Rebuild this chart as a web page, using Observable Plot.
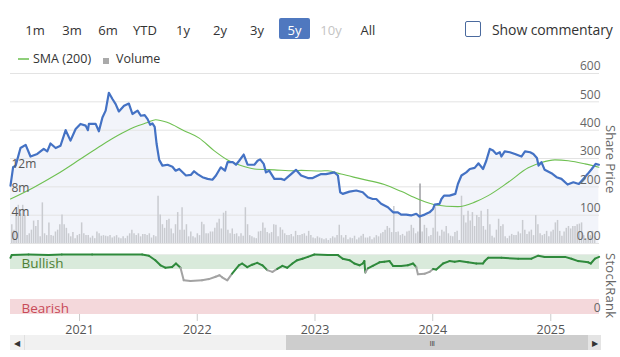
<!DOCTYPE html>
<html><head><meta charset="utf-8">
<script src="https://cdn.jsdelivr.net/npm/d3@7"></script>
<script src="https://cdn.jsdelivr.net/npm/@observablehq/plot@0.6"></script>
<style>
body{margin:0;background:#fff;font-family:"Open Sans",sans-serif;}
#wrap{position:relative;width:620px;height:357px;overflow:hidden;}
.btn{position:absolute;top:21px;font-size:13px;color:#333;transform:translateX(-50%);line-height:18px;white-space:nowrap;}
.abs{position:absolute;white-space:nowrap;}
.vert{position:absolute;writing-mode:vertical-rl;font-size:13px;color:#666;line-height:14px;}
#main,#rank{position:absolute;left:0;}
#main{top:60px;} #rank{top:246px;}
</style></head><body><div id="wrap">
<div class="btn" style="left:35px">1m</div>
<div class="btn" style="left:72px">3m</div>
<div class="btn" style="left:108px">6m</div>
<div class="btn" style="left:145px">YTD</div>
<div class="btn" style="left:183px">1y</div>
<div class="btn" style="left:220px">2y</div>
<div class="btn" style="left:257px">3y</div>
<div class="abs" style="left:279px;top:18px;width:31px;height:21px;background:#4f78bf;border-radius:2px;"></div>
<div class="btn" style="left:294.5px;color:#fff">5y</div>
<div class="btn" style="left:331px;color:#c4c4c4">10y</div>
<div class="btn" style="left:368px">All</div>
<div class="abs" style="left:465px;top:21px;width:14px;height:14px;border:1.5px solid #4a6a9e;border-radius:2px;"></div>
<div class="abs" style="left:492px;top:20px;font-size:14px;color:#333;line-height:19px;letter-spacing:-0.1px;">Show commentary</div>
<div class="abs" style="left:18px;top:58px;width:11px;height:2px;background:#8fcf7a;"></div>
<div class="abs" style="left:33px;top:50px;font-size:12.5px;color:#333;line-height:17px;">SMA (200)</div>
<div class="abs" style="left:103px;top:58px;width:6px;height:6px;background:#aaa;"></div>
<div class="abs" style="left:116px;top:50px;font-size:12.5px;color:#333;line-height:17px;">Volume</div>
<div id="main"></div>
<div id="rank"></div>
<div class="vert" style="left:604px;top:125px;">Share Price</div>
<div class="vert" style="left:604px;top:253px;letter-spacing:0.3px;">StockRank</div>
<div class="abs" style="left:10px;top:335px;width:591px;height:15px;background:#f1f1f1;"></div>
<div class="abs" style="left:10px;top:335px;width:14px;height:15px;background:#f1f1f1;border-right:1px solid #e0e0e0;font-size:8px;color:#333;line-height:15px;text-align:center;">&#9664;</div>
<div class="abs" style="left:286px;top:335px;width:302px;height:15px;background:#cdcdcd;"></div>
<div class="abs" style="left:427px;top:338px;width:10px;height:10px;font-size:8px;color:#444;line-height:10px;text-align:center;letter-spacing:-0.5px;">III</div>
<div class="abs" style="left:588px;top:335px;width:13px;height:15px;background:#e4e4e4;font-size:8px;color:#333;line-height:15px;text-align:center;">&#9654;</div>
</div>
<script>
// ---- data ----
const priceDates = ["2020-06-01","2020-06-09","2020-06-17","2020-07-02","2020-07-18","2020-08-02","2020-08-23","2020-09-12","2020-09-23","2020-10-03","2020-10-19","2020-11-03","2020-11-19","2020-12-04","2020-12-20","2021-01-04","2021-01-20","2021-01-27","2021-01-30","2021-02-20","2021-03-02","2021-03-13","2021-03-23","2021-04-02","2021-04-13","2021-04-23","2021-05-03","2021-05-19","2021-06-03","2021-06-14","2021-06-30","2021-07-10","2021-07-22","2021-07-31","2021-08-08","2021-08-15","2021-08-22","2021-08-28","2021-09-05","2021-09-15","2021-10-01","2021-10-16","2021-10-26","2021-11-06","2021-11-27","2021-12-12","2021-12-22","2022-01-02","2022-01-17","2022-02-02","2022-02-17","2022-02-28","2022-03-15","2022-03-28","2022-04-05","2022-04-21","2022-05-01","2022-05-11","2022-05-25","2022-06-06","2022-06-27","2022-07-07","2022-07-15","2022-07-26","2022-08-02","2022-08-12","2022-08-28","2022-09-18","2022-09-28","2022-10-08","2022-10-19","2022-11-03","2022-11-19","2022-12-10","2022-12-25","2023-01-10","2023-01-20","2023-02-04","2023-03-02","2023-03-13","2023-03-20","2023-03-28","2023-04-18","2023-05-09","2023-05-29","2023-06-14","2023-06-29","2023-07-10","2023-07-25","2023-08-15","2023-08-31","2023-09-15","2023-09-25","2023-10-11","2023-10-26","2023-11-11","2023-11-21","2023-12-07","2023-12-22","2024-01-02","2024-01-07","2024-01-22","2024-01-28","2024-02-05","2024-02-22","2024-03-11","2024-03-19","2024-03-30","2024-04-14","2024-04-25","2024-05-10","2024-05-22","2024-06-05","2024-06-15","2024-06-26","2024-07-06","2024-07-16","2024-07-27","2024-08-01","2024-08-11","2024-08-27","2024-09-12","2024-10-02","2024-10-13","2024-10-29","2024-11-08","2024-11-19","2024-11-24","2024-12-03","2024-12-13","2025-01-03","2025-01-19","2025-02-03","2025-02-22","2025-03-12","2025-03-29","2025-04-12","2025-04-25","2025-05-08","2025-05-20","2025-05-30"];
const priceValues = [204,269,275,337,348,307,316,334,325,353,337,345,400,363,404,422,416,400,422,422,396,445,469,532,510,492,466,486,494,457,469,451,453,439,419,424,412,351,295,275,278,271,257,263,240,242,255,245,234,228,225,240,269,257,287,287,278,292,314,278,278,292,297,281,251,257,228,228,224,234,245,260,240,231,231,240,245,245,251,240,181,175,183,187,181,163,157,157,140,128,110,110,102,102,99,105,95,102,110,122,137,140,157,169,169,175,210,240,251,263,267,283,263,292,334,328,316,322,307,325,322,316,307,325,322,316,302,275,287,260,248,234,228,208,216,210,228,245,263,281,278];

const smaDates = ["2020-06-01","2020-08-12","2020-10-24","2021-01-04","2021-03-08","2021-04-28","2021-06-19","2021-07-31","2021-08-25","2021-10-01","2021-11-21","2022-01-07","2022-02-22","2022-04-05","2022-05-16","2022-06-27","2022-08-28","2022-10-29","2022-11-19","2023-01-20","2023-02-10","2023-03-23","2023-05-24","2023-08-04","2023-09-25","2023-11-16","2024-01-07","2024-03-19","2024-05-10","2024-06-21","2024-08-22","2024-10-23","2024-12-03","2025-01-14","2025-02-24","2025-04-17","2025-05-30"];
const smaValues = [157,198,245,298,345,380,410,427,437,427,398,372,328,295,275,263,260,257,258,256,257,245,228,208,184,157,137,130,146,169,216,267,286,295,292,281,269];

// weekly volume, millions (first bar ~2020-06-05, last ~2025-05-17)
const volumeStart = "2020-06-05", volumeEnd = "2025-05-17";
const volumeValues = [3.1,2.2,4.6,6.3,4.9,6.3,4.6,1.3,1.6,2.2,3.7,2.8,3.8,1.1,6.7,1.6,1.3,3.4,1.3,1.2,1.9,2.2,3.1,4.7,3.1,2.5,1.6,1.1,1.8,0.8,1.3,1.5,3.4,1.6,1.3,1.3,0.9,1.2,0.8,1.9,1.6,1.2,1.3,1.2,1.1,1.3,0.9,1.1,1.3,0.9,0.8,1.1,0.8,1.2,1.6,2.2,1.6,1.3,1.6,1.1,1.5,1.5,1.3,1.6,0.9,1.3,1.1,7.8,
4.7,3.1,2.5,3.8,4.0,2.4,1.6,3.1,5.1,2.2,5.9,2.2,3.1,1.1,1.9,1.1,0.9,1.6,1.3,3.5,3.1,1.6,1.6,1.9,1.9,2.5,3.4,4.0,2.4,5.0,5.3,2.2,1.6,2.4,1.5,1.6,1.1,1.6,1.2,5.9,3.1,1.3,1.1,0.9,0.8,1.9,2.0,3.4,2.5,1.8,1.6,1.8,3.1,3.0,1.1,2.6,2.2,1.6,1.3,1.3,1.5,1.1,2.0,1.3,1.3,1.5,
1.6,1.2,2.0,1.3,0.9,0.8,1.1,0.9,0.8,0.6,0.8,0.5,0.8,1.1,0.9,1.3,3.0,1.3,0.9,1.3,0.6,0.9,0.8,1.2,0.6,0.9,1.2,1.5,0.9,0.9,1.1,0.6,0.9,1.3,1.1,1.6,1.8,2.2,2.8,2.5,1.8,6.1,1.8,1.9,1.3,1.5,1.2,1.9,2.0,3.0,2.5,1.6,1.9,9.8,1.9,3.0,2.5,1.1,1.3,2.5,6.0,1.9,1.2,2.2,1.9,2.8,1.6,1.2,1.1,
1.8,2.0,0.5,7.8,4.6,3.4,5.3,3.7,5.1,2.8,4.6,4.3,5.3,2.8,2.2,5.6,3.1,1.2,0.9,2.2,4.0,2.8,3.1,1.1,0.8,1.2,1.5,1.3,1.3,1.9,1.6,3.8,2.2,1.5,1.9,2.2,1.3,4.6,3.1,1.6,1.3,1.5,2.0,1.1,1.9,2.2,3.4,3.8,2.0,1.2,1.9,2.5,2.8,2.4,2.8,2.8,3.1,3.2,3.4,1.3,0.8,1.9,1.3,2.0,1.1];

const rankDates = ["2020-06-01","2020-06-05","2020-07-27","2020-09-27","2020-11-07","2021-02-09","2021-07-14","2021-08-04","2021-08-24","2021-09-09","2021-09-24","2021-10-15","2021-10-27","2021-11-10","2021-11-20","2021-12-11","2022-01-16","2022-02-06","2022-02-27","2022-03-11","2022-03-19","2022-04-04","2022-04-19","2022-05-10","2022-05-20","2022-06-05","2022-06-20","2022-07-06","2022-07-22","2022-08-06","2022-08-22","2022-09-06","2022-09-22","2022-10-07","2022-10-23","2022-11-07","2022-11-23","2022-12-10","2022-12-30","2023-02-10","2023-03-13","2023-03-28","2023-04-18","2023-05-03","2023-05-19","2023-05-29","2023-06-03","2023-06-06","2023-06-14","2023-06-29","2023-07-20","2023-08-04","2023-08-20","2023-08-31","2023-09-25","2023-10-16","2023-11-01","2023-11-11","2023-11-16","2023-12-07","2023-12-22","2024-01-02","2024-01-12","2024-02-02","2024-02-22","2024-03-09","2024-03-24","2024-04-19","2024-05-15","2024-06-05","2024-06-10","2024-06-21","2024-08-01","2024-09-22","2024-11-02","2024-11-23","2024-12-13","2025-02-14","2025-03-06","2025-03-27","2025-04-27","2025-05-05","2025-05-18","2025-05-31"];
const rankValues = [94.5,99,100,99,100,100,100,98,90.5,82,78,79,85,78,57,56,57,59,63,65.5,62,57,68,82,85,79,83,86,82,74,71,76,81,78,85,90.5,93,96,100,99,99,93,90.5,85,82,85,89,70,77,81,87,88,89,81,81,82,85,79,67,68,71,76,75,85,89,88,89,87,85,85,89,94.5,94.5,93,93,98,96,96,93,89,87,85,93,96];

const priceTicks = [0,100,200,300,400,500,600];
const priceTickLabels = ["0.00","100","200","300","400","500","600"];
const volumeTicks = [0,4,8,12];
const volumeTickLabels = ["0","4m","8m","12m"];
const yearLabels = ["2021","2022","2023","2024","2025"];
const bandNames = ["Bullish","Bearish"];
const bandLow = [75,0];
const bandHigh = [100,25];
const domainStart = "2020-06-01", domainEnd = "2025-06-01";

// ---- build ----
const parse = d3.utcParse("%Y-%m-%d");
const X0 = parse(domainStart), X1 = parse(domainEnd);
const priceData = priceDates.map((d,i)=>({date:parse(d), v:priceValues[i]}));
const smaData = smaDates.map((d,i)=>({date:parse(d), v:smaValues[i]}));
const vs = parse(volumeStart), ve = parse(volumeEnd), n = volumeValues.length;
const vmax = d3.max(volumeValues);
const volData = volumeValues.map((v,i)=>({date:new Date(+vs + (ve-vs)*i/(n-1)), v}));
const VSCALE = 21.4; // volume (m) -> price-axis units: volume axis shares the panel
const FONT = "Open Sans";

const main = Plot.plot({
  width:620, height:190, marginLeft:10, marginRight:21, marginTop:13, marginBottom:7,
  x:{type:"utc", domain:[X0,X1], axis:null},
  y:{domain:[0,600], axis:null},
  style:{fontFamily:FONT, fontSize:"12px", background:"transparent", overflow:"visible"},
  marks:[
    Plot.areaY(priceData,{x:"date", y:"v", fill:"#f2f4fa"}),
    Plot.ruleY(priceTicks,{stroke:"#e3e3e3"}),
    Plot.ruleX(volData,{x:"date", y1:0, y2:d=>d.v*VSCALE, stroke:d=>d.v===vmax?"#9d9ea3":"#c9cbd0", strokeWidth:1.5}),
    Plot.line(smaData,{x:"date", y:"v", stroke:"#6fc052", strokeWidth:1.1, curve:"monotone-x"}),
    Plot.line(priceData,{x:"date", y:"v", stroke:"#4472c4", strokeWidth:2.2, strokeLinejoin:"round"}),
    Plot.text(priceTicks,{y:d=>d, text:priceTickLabels, frameAnchor:"right", textAnchor:"end", dx:1, dy:-7, fill:"#666", fontSize:12}),
    Plot.text(volumeTicks,{y:d=>d*VSCALE, text:volumeTickLabels, frameAnchor:"left", textAnchor:"start", dx:1, dy:-7, fill:"#555", fontSize:12})
  ]
});
document.getElementById("main").append(main);

const rankData = rankDates.map((d,i)=>({date:parse(d), v:rankValues[i]}));
const segs = d3.pairs(rankData).map(([a,b])=>({a,b,c:(a.v+b.v)/2>=75?"#2f8a3c":"#a3a3a3"}));
const bands = bandNames.map((name,i)=>({name, lo:bandLow[i], hi:bandHigh[i], a:X0, b:X1}));
const yearDates = yearLabels.map(d3.utcParse("%Y"));

const rank = Plot.plot({
  width:620, height:90, marginLeft:10, marginRight:21, marginTop:8, marginBottom:22,
  x:{type:"utc", domain:[X0,X1], axis:null},
  y:{domain:[0,100], axis:null},
  style:{fontFamily:FONT, fontSize:"12px", background:"transparent", overflow:"visible"},
  marks:[
    Plot.rect(bands,{x1:"a", x2:"b", y1:"lo", y2:"hi", fill:(d,i)=>i===0?"#d9eadb":"#f4d8db"}),
    Plot.ruleY([100],{stroke:"#e8ece8"}),
    Plot.link(segs,{x1:d=>d.a.date, y1:d=>d.a.v, x2:d=>d.b.date, y2:d=>d.b.v, stroke:"c", strokeWidth:2, strokeLinecap:"round"}),
    Plot.text(bands,{y:d=>(d.lo+d.hi)/2, text:"name", frameAnchor:"left", textAnchor:"start", dx:11, dy:2, fontSize:13.5, fill:(d,i)=>i===0?"#4e8034":"#c84a57"}),
    Plot.text([0],{y:d=>d, text:["0"], frameAnchor:"right", textAnchor:"end", dx:1, dy:-6, fill:"#666", fontSize:12}),
    Plot.axisX(yearDates,{tickSize:7, tickPadding:4, tickFormat:"%Y", stroke:"#cccccc", fill:"#555", fontSize:12.5, label:null})
  ]
});
document.getElementById("rank").append(rank);
</script></body></html>
